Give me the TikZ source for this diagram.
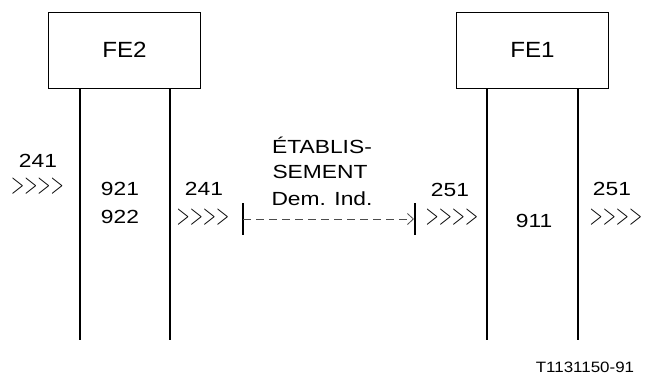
\documentclass[tikz,border=0pt]{standalone}
\usepackage{fontspec}
\setmainfont[FakeStretch=1.2]{Liberation Sans}
\newfontfamily\fefont[FakeStretch=1.1]{Liberation Sans}
\newfontfamily\labfont[FakeStretch=1.13]{Liberation Sans}
\usetikzlibrary{arrows.meta}
\newcommand{\chevrons}{\scalebox{1}[1.7]{$>>>>$}}
\begin{document}
\begin{tikzpicture}[x=1pt,y=-1pt,
  every node/.style={inner sep=0pt, font=\fontsize{19}{22}\selectfont},
  fe/.style={draw, line width=1pt, minimum width=152pt, minimum height=76pt, font=\fefont\fontsize{22}{26}\selectfont},
  life/.style={line width=2pt},
  tick/.style={line width=2pt},
  lbl/.style={anchor=base},
  chev/.style={anchor=center, font=\fontsize{17}{20}\selectfont},
  msg/.style={dashed, dash pattern=on 8pt off 5pt, line width=0.8pt, draw=black!70, -{Straight Barb[length=6pt,width=11pt,line width=0.8pt]}}]
\useasboundingbox (0,0) rectangle (647,376);
% functional entities
\node[fe] (fe2) at (124.5,50) {FE2};
\node[fe] (fe1) at (532.5,50) {FE1};
% lifelines
\coordinate (l1t) at (80,88);  \coordinate (l1b) at (80,340);
\coordinate (l2t) at (170,88); \coordinate (l2b) at (170,340);
\coordinate (l3t) at (487,88); \coordinate (l3b) at (487,340);
\coordinate (l4t) at (578,88); \coordinate (l4b) at (578,340);
\draw[life] (l1t) -- (l1b);
\draw[life] (l2t) -- (l2b);
\draw[life] (l3t) -- (l3b);
\draw[life] (l4t) -- (l4b);
% ticks
\coordinate (t1a) at (243,203); \coordinate (t1b) at (243,235);
\coordinate (t2a) at (415,203); \coordinate (t2b) at (415,235);
\draw[tick] (t1a) -- (t1b);
\draw[tick] (t2a) -- (t2b);
% message
\coordinate (ms) at (243,219); \coordinate (me) at (414,219);
\draw[msg] (ms) -- (me);
% texts
\node[lbl] (n241a) at (38,167) {241};
\node[chev] (c1) at (37.5,186) {\chevrons};
\node[lbl] (n921) at (120,195) {921};
\node[lbl] (n922) at (120,223) {922};
\node[lbl] (n241b) at (204,195) {241};
\node[chev] (c2) at (203,217) {\chevrons};
\node[lbl] (e1) at (322,153) {ÉTABLIS-};
\node[lbl] (e2) at (320,178) {SEMENT};
\node[lbl] (e3) at (322,205) {Dem. Ind.};
\node[lbl] (n251a) at (450,196) {251};
\node[chev] (c3) at (452,217) {\chevrons};
\node[lbl] (n911) at (534,227) {911};
\node[lbl] (n251b) at (612,195) {251};
\node[chev] (c4) at (616,217) {\chevrons};
\node[lbl, font=\labfont\fontsize{15}{18}\selectfont] (tl) at (585,372) {T1131150-91};
\end{tikzpicture}
\end{document}
